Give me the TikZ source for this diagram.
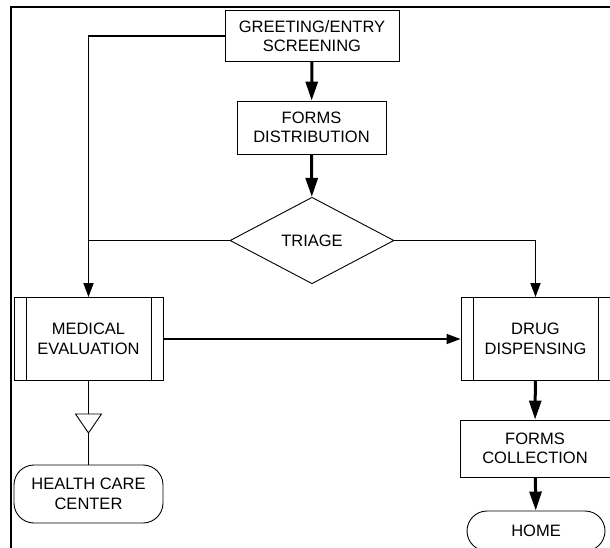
\documentclass[tikz,border=0pt]{standalone}
\usepackage{fontspec}
\setmainfont{Liberation Sans}
\usetikzlibrary{arrows.meta,shapes.geometric}
\begin{document}
\begin{tikzpicture}[x=1pt,y=-1pt,
    every node/.style={font=\fontsize{16.5}{19.5}\selectfont, align=center, inner sep=0pt},
    box/.style={draw, rectangle, line width=0.9pt},
    predef/.style={box, path picture={
        \draw[line width=0.9pt]
          ([xshift=12pt]path picture bounding box.north west) -- ([xshift=12pt]path picture bounding box.south west)
          ([xshift=-12pt]path picture bounding box.north east) -- ([xshift=-12pt]path picture bounding box.south east);}},
    terminal/.style={box, rounded corners=20pt},
    decision/.style={draw, diamond, line width=0.9pt},
    link/.style={line width=1.6pt, -{Triangle[length=14pt,width=10pt]}},
    flow/.style={line width=3pt, -{Triangle[length=19pt,width=12pt]}}]
      \useasboundingbox (0,0) rectangle (610,548);
      \clip (0,0) rectangle (610,548);
      \draw[line width=2.2pt] (11,560) -- (11,7) -- (620,7);
      \draw
        (312,36) node[box, minimum width=174, minimum height=51.5] (greet){GREETING/ENTRY\\SCREENING}
        (311.5,127.5) node[box, minimum width=149, minimum height=53] (fdist){FORMS\\DISTRIBUTION}
        (312,240.5) node[decision, minimum width=164, minimum height=86.5] (tri){TRIAGE}
        (88.5,339) node[predef, minimum width=149, minimum height=83] (med){MEDICAL\\EVALUATION}
        (535.5,339) node[predef, minimum width=149, minimum height=83] (drug){DRUG\\DISPENSING}
        (535,448.5) node[box, minimum width=150, minimum height=57] (fcol){FORMS\\COLLECTION}
        (88.5,494) node[terminal, minimum width=149, minimum height=58] (hcc){HEALTH CARE\\CENTER}
        (536,531) node[terminal, minimum width=138, minimum height=40] (home){HOME};
      \begin{scope}[flow]
        \draw (greet) to (fdist);
        \draw (fdist) to (tri);
        \draw (drug) to (fcol);
        \draw (fcol) to (home);
      \end{scope}
      \begin{scope}[link]
        \draw (greet.west) -| (med.north);
        \draw (tri.east) -| (drug.north);
        \draw (med.east) -- (drug.west);
      \end{scope}
      \draw[line width=1.6pt] (tri.west) -- (tri.west -| med.north);
      \draw[line width=1.6pt] (med) -- (hcc);
      \coordinate (mrg) at (88.5,414);
      \draw[line width=0.9pt, fill=white] (mrg) +(-13,0) -- +(13,0) -- +(0,19) -- cycle;
    \end{tikzpicture}
\end{document}
